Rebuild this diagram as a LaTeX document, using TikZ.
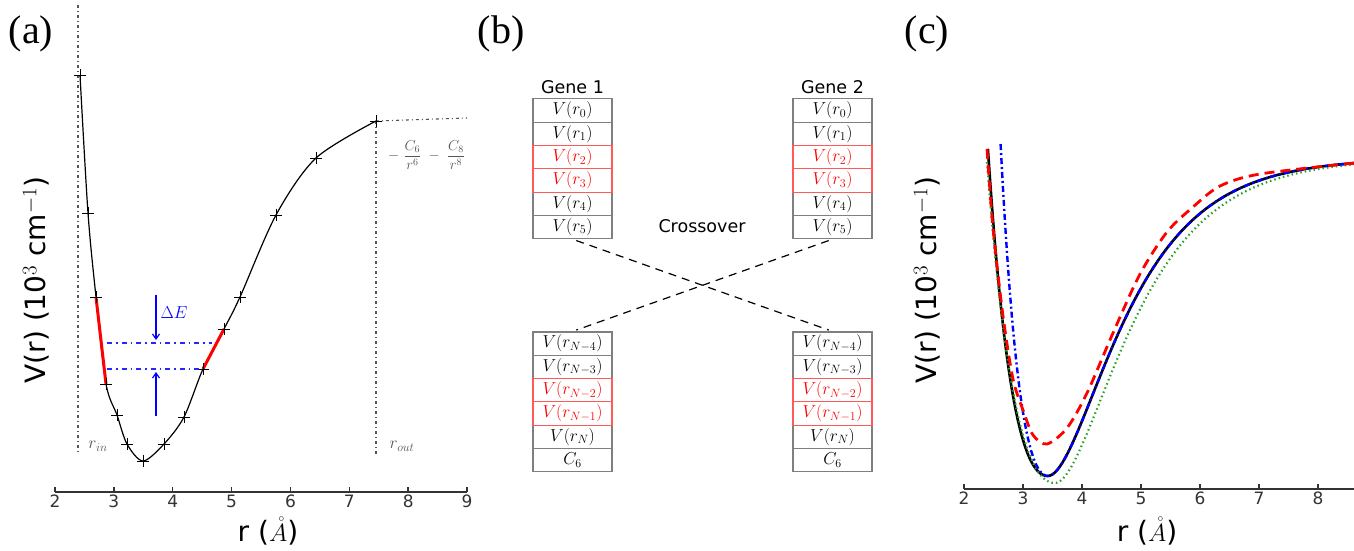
\documentclass[tikz,border=0pt]{standalone}
\usepackage[no-math]{fontspec}
\setmainfont{Liberation Serif}
\setsansfont{DejaVu Sans}
\usetikzlibrary{arrows.meta}

\definecolor{axisgray}{HTML}{333333}
\definecolor{boxgray}{HTML}{7F7F7F}
\definecolor{labgray}{HTML}{555555}
\definecolor{fitgreen}{HTML}{2CA02C}

\begin{document}
\begin{tikzpicture}[x=1pt, y=-1pt,
  declare function={
    mt(\r,\q,\l,\h)=1-exp(-((\r<\q)?\l:\h)*(\r-\q));
    vm(\r,\q,\l,\h,\d)=158-\d*(mt(\r,\q,\l,\h)*mt(\r,\q,\l,\h)-1);},
  panel/.style={font=\fontsize{40}{40}\selectfont},
  axlab/.style={font=\sffamily\fontsize{28}{28}\selectfont},
  ticklab/.style={font=\sffamily\fontsize{17}{17}\selectfont},
  head/.style={font=\sffamily\fontsize{17.5}{17.5}\selectfont},
  gene/.style={draw=boxgray, line width=1.1pt, minimum width=79pt,
               minimum height=23.3pt, inner sep=0pt,
               font=\fontsize{18.5}{18.5}\selectfont},
  hot/.style={gene, draw=red!65, text=red},
  axis/.style={axisgray, line width=1.4pt},
  guide/.style={labgray, line width=1.1pt,
                dash pattern=on 3pt off 3pt on 1pt off 3pt},
  level/.style={blue!85, line width=1.1pt,
                dash pattern=on 5pt off 4pt on 1.5pt off 4pt},
  a/.style={-{Straight Barb[length=5pt,width=7pt]}},
  cross/.style={black, line width=1.2pt, dash pattern=on 8pt off 6pt}]

  \useasboundingbox (0,0) rectangle (1354,550);

  % panel (a)
  \node[panel] (pa) at (31,34) {(a)};
  \draw[axis] (55,492) -- (467,492);
  \foreach \t in {2,...,9}
    \draw[axis] ({55+(\t-2)*58.86},492) -- ++(0,-5)
      node[ticklab, below=4pt] {\t};
  \node[axlab, anchor=base] (xa) at (268,541) {r ($\mathring{A}$)};
  \node[axlab, rotate=90] (ya) at (36,280)
    {V(r) (10$^{3}$ cm$^{-1}$)};

  \draw[guide] (78,5) -- (78,455);
  \draw[guide] (376,121) -- (376,455);
  \draw[guide] (376,121) -- (467,118);
  \node[labgray, font=\fontsize{18}{18}\selectfont] (rin) at (98,446) {$r_{in}$};
  \node[labgray, font=\fontsize{18}{18}\selectfont] (rout) at (402,446) {$r_{out}$};
  \node[labgray, anchor=west, inner sep=0pt, font=\fontsize{14.4}{14.4}\selectfont]
    (tail) at (388,155)
    {$\displaystyle -\;\frac{C_6}{r^6}\;-\;\frac{C_8}{r^8}$};

  \draw[black, line width=1.2pt] plot[smooth] coordinates {(80,75) (88,213)
    (96,297) (106,384) (117,415) (127,444) (143,461) (164,444) (184,417)
    (203,369) (224,329) (240,297) (276,215) (316,158) (376,121)};
  \draw[red, line width=3pt] (96,297) -- (106,384);
  \draw[red, line width=3pt] (203,369) -- (224,329);
  \foreach \p in {(80,75), (88,213), (96,297), (106,384), (117,415),
      (127,444), (143,461), (164,444), (184,417), (203,369), (224,329),
      (240,297), (276,215), (316,158), (376,121)}
    \draw[black, line width=1pt] \p +(-6,0) -- +(6,0) \p +(0,-6) -- +(0,6);

  \draw[level] (107,343) -- (212,343);
  \draw[level] (107,369) -- (203,369);
  \draw[a, blue, line width=1.2pt] (156,295) -- (156,340);
  \draw[a, blue, line width=1.2pt] (156,416) -- (156,372);
  \node[blue, font=\fontsize{18}{18}\selectfont] (de) at (174,313) {$\Delta E$};

  % panel (b)
  \node[panel] (pb) at (501,34) {(b)};
  \node[head] (g1) at (572.5,87) {Gene 1};
  \node[head] (g2) at (832.5,87) {Gene 2};
  \node[head] (xo) at (702,226) {Crossover};

  \node[gene] (l0) at (572.5,110.5) {$V(r_0)$};
  \node[gene] (l1) at (572.5,133.8) {$V(r_1)$};
  \node[gene] (l4) at (572.5,203.7) {$V(r_4)$};
  \node[gene] (l5) at (572.5,227.0) {$V(r_5)$};
  \node[hot]  (l2) at (572.5,157.1) {$V(r_2)$};
  \node[hot]  (l3) at (572.5,180.4) {$V(r_3)$};

  \node[gene] (r0) at (832.5,110.5) {$V(r_0)$};
  \node[gene] (r1) at (832.5,133.8) {$V(r_1)$};
  \node[gene] (r4) at (832.5,203.7) {$V(r_4)$};
  \node[gene] (r5) at (832.5,227.0) {$V(r_5)$};
  \node[hot]  (r2) at (832.5,157.1) {$V(r_2)$};
  \node[hot]  (r3) at (832.5,180.4) {$V(r_3)$};

  \node[gene] (ln4) at (572.5,343.6) {$V(r_{N-4})$};
  \node[gene] (ln3) at (572.5,366.9) {$V(r_{N-3})$};
  \node[gene] (ln0) at (572.5,436.8) {$V(r_{N})$};
  \node[gene] (lc6) at (572.5,460.1) {$C_6$};
  \node[hot]  (ln2) at (572.5,390.2) {$V(r_{N-2})$};
  \node[hot]  (ln1) at (572.5,413.5) {$V(r_{N-1})$};

  \node[gene] (rn4) at (832.5,343.6) {$V(r_{N-4})$};
  \node[gene] (rn3) at (832.5,366.9) {$V(r_{N-3})$};
  \node[gene] (rn0) at (832.5,436.8) {$V(r_{N})$};
  \node[gene] (rc6) at (832.5,460.1) {$C_6$};
  \node[hot]  (rn2) at (832.5,390.2) {$V(r_{N-2})$};
  \node[hot]  (rn1) at (832.5,413.5) {$V(r_{N-1})$};

  \draw[cross, shorten <=4pt, shorten >=4pt] (l5.south) -- (rn4.north);
  \draw[cross, shorten <=4pt, shorten >=4pt] (r5.south) -- (ln4.north);

  % panel (c)
  \node[panel] (pc) at (927,34) {(c)};
  \draw[axis] (964,489) -- (1354,489);
  \foreach \t in {2,...,8}
    \draw[axis] ({964+(\t-2)*59},489) -- ++(0,-5)
      node[ticklab, below=4pt] {\t};
  \node[axlab, anchor=base] (xc) at (1147,541) {r ($\mathring{A}$)};
  \node[axlab, rotate=90] (yc) at (927,280)
    {V(r) (10$^{3}$ cm$^{-1}$)};

  \draw[black, line width=2.6pt] plot[domain=2.405:8.61, samples=160,
    variable=\r] ({964+(\r-2)*59}, {vm(\r,3.42,0.69,0.927,318)});
  \draw[fitgreen, line width=2.2pt, dash pattern=on 1.5pt off 3pt]
    plot[domain=2.39:8.61, samples=160, variable=\r]
    ({964+(\r-2)*59}, {vm(\r,3.54,0.6,0.91,325)});
  \draw[blue, line width=2.4pt, dash pattern=on 6pt off 3pt on 2pt off 3pt]
    plot[domain=2.62:8.61, samples=160, variable=\r]
    ({964+(\r-2)*59}, {vm(\r,3.42,0.88,0.927,318)});
  \draw[red, line width=2.8pt, dash pattern=on 10pt off 6pt]
    plot[smooth] coordinates {(987,149) (993,228) (1003,316) (1013,379)
    (1023,410) (1033,435) (1047,444) (1067,428) (1087,393) (1113,333)
    (1140,274) (1167,232) (1193,207) (1220,186) (1260,174) (1354,163)};

\end{tikzpicture}
\end{document}
